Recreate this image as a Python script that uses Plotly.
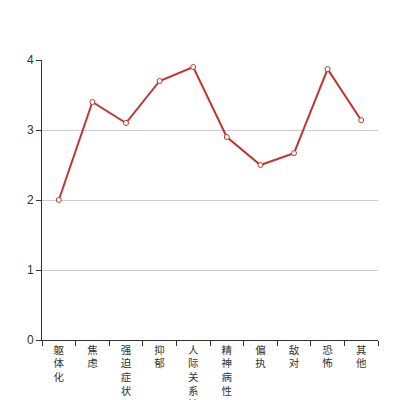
import plotly.graph_objects as go

categories = ["躯体化", "焦虑", "强迫症状", "抑郁", "人际关系敏感", "精神病性", "偏执", "敌对", "恐怖", "其他"]
values = [2.0, 3.4, 3.1, 3.7, 3.9, 2.9, 2.5, 2.67, 3.87, 3.14]
y_ticks = [0, 1, 2, 3, 4]

tick_text = ["<br>".join(list(c)) for c in categories]

fig = go.Figure()
fig.add_trace(go.Scatter(
    x=categories, y=values, mode="lines+markers",
    line=dict(color="#c23531", width=2),
    marker=dict(symbol="circle", size=5, color="white",
                line=dict(color="#c23531", width=1)),
    hoverinfo="skip",
))

fig.update_layout(
    width=420, height=400,
    margin=dict(l=34, r=50, t=52, b=68),
    paper_bgcolor="white", plot_bgcolor="white",
    showlegend=False,
    font=dict(family="Liberation Sans, Noto Sans CJK SC, sans-serif", size=12, color="#333"),
    xaxis=dict(
        type="category", range=[-0.5, 9.5], automargin=False,
        tickmode="array", tickvals=categories, ticktext=tick_text,
        tickson="boundaries", ticks="outside", ticklen=5, tickcolor="#333",
        showline=True, linecolor="#333", linewidth=1,
        showgrid=False, zeroline=False,
        tickfont=dict(size=10.5, color="#333"),
        tickangle=0,
    ),
    yaxis=dict(
        range=[0, 4], tickvals=y_ticks, automargin=False,
        ticks="outside", ticklen=5, tickcolor="#333",
        showline=True, linecolor="#333", linewidth=1,
        showgrid=True, gridcolor="#ccc", gridwidth=1, zeroline=False,
        tickfont=dict(size=12, color="#333"),
    ),
)

fig.write_html("out.html")
